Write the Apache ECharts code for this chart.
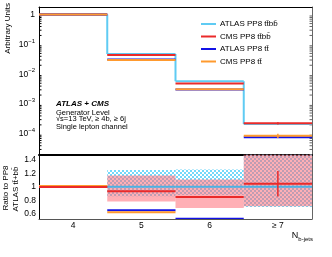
<!DOCTYPE html>
<html><head><meta charset="utf-8">
<script src="https://cdn.jsdelivr.net/npm/echarts@6/dist/echarts.min.js"></script>
<style>html,body{margin:0;padding:0;background:#fff}#c{width:332px;height:257px}</style>
</head><body><div id="c"></div>
<script>
// ---- data ----
const categories = ['4', '5', '6', '≥ 7'];
const seriesNames = ['ATLAS PP8 tt\u0304bb\u0304', 'CMS PP8 tt\u0304bb\u0304', 'ATLAS PP8 tt\u0304', 'CMS PP8 tt\u0304'];
// top panel (arbitrary units)
const atlasTtbb = [1.0, 0.048, 0.0058, 2.15e-4];
const cmsTtbb = [1.0, 0.0446, 0.0049, 2.25e-4];
const cmsTtbbErr = [0.004, 0.0005, 0.00008, 0.2e-4];
const atlasTt = [1.0, 0.0312, 0.00308, 7.7e-5];
const atlasTtErr = [0.003, 0.0003, 0.00004, 0.5e-5];
const cmsTt = [1.01, 0.0298, 0.00314, 8.7e-5];
const cmsTtErr = [0.003, 0.0003, 0.00004, 1.4e-5];
// ratio panel
const ratioAtlasTtbb = [1.0, 1.0, 1.0, 1.0];
const ratioCmsTtbb = [0.998, 0.935, 0.85, 1.045];
const ratioCmsTtbbErr = [0, 0.006, 0.015, 0.19];
const ratioAtlasTt = [1.0, 0.65, 0.523, 0.36];
const ratioCmsTt = [1.012, 0.62, 0.50, 0.40];
const bandAtlasLo = [1, 0.86, 0.88, 0.70];
const bandAtlasHi = [1, 1.25, 1.26, 1.60];
const bandCmsLo = [1, 0.78, 0.685, 0.71];
const bandCmsHi = [1, 1.17, 1.11, 1.60];
const ratioTicks = [0.6, 0.8, 1.0, 1.2, 1.4];

const FONT = '"Liberation Sans", Arial, Helvetica, sans-serif';
const C_CYAN = '#5fcbf3', C_RED = '#ea2a2a', C_BLUE = '#1212e6', C_ORANGE = '#ff9a2e';

const ratioMinorTicks = [];
for (let k = 11; k <= 29; k++) ratioMinorTicks.push(+(k * 0.05).toFixed(2));

// checker pattern for ATLAS band
const pc = document.createElement('canvas');
pc.width = 4; pc.height = 4;
const pctx = pc.getContext('2d');
pctx.fillStyle = '#72d8fa';
pctx.fillRect(0, 0, 2, 2); pctx.fillRect(2, 2, 2, 2);

function stepItem(params, api) {
  const i = api.value(0), v = api.value(1), prev = api.value(2);
  const c = api.coord([i, v]);
  const bw = api.size([1, 0])[0];
  const x0 = c[0] - bw / 2, x1 = c[0] + bw / 2;
  const st = { stroke: api.visual('color'), lineWidth: 2 };
  const kids = [{ type: 'line', shape: { x1: x0, y1: c[1], x2: x1, y2: c[1] }, style: st }];
  if (!isNaN(prev)) {
    const p = api.coord([i, prev]);
    kids.push({ type: 'line', shape: { x1: x0, y1: p[1], x2: x0, y2: c[1] }, style: st });
  }
  return { type: 'group', children: kids };
}
function segItem(params, api) {
  const i = api.value(0), v = api.value(1), e = api.value(2);
  const c = api.coord([i, v]);
  const bw = api.size([1, 0])[0];
  const st = { stroke: api.visual('color'), lineWidth: 2 };
  const kids = [{ type: 'line', shape: { x1: c[0] - bw / 2, y1: c[1], x2: c[0] + bw / 2, y2: c[1] }, style: st }];
  if (e > 0) {
    const a = api.coord([i, v + e]), b = api.coord([i, v - e]);
    kids.push({ type: 'line', shape: { x1: c[0], y1: a[1], x2: c[0], y2: b[1] }, style: { stroke: api.visual('color'), lineWidth: 1.5 } });
  }
  return { type: 'group', children: kids };
}
function bandItem(fill) {
  return function (params, api) {
    const i = api.value(0), lo = api.value(1), hi = api.value(2);
    const a = api.coord([i, hi]), b = api.coord([i, lo]);
    const bw = api.size([1, 0])[0];
    return { type: 'rect', shape: { x: a[0] - bw / 2, y: a[1], width: bw, height: b[1] - a[1] }, style: { fill: fill } };
  };
}
function minorLogTicks(params, api) {
  const cs = params.coordSys;
  const kids = [];
  for (let e = -5; e <= 0; e++) {
    for (let k = 2; k <= 9; k++) {
      const val = k * Math.pow(10, e);
      const y = api.coord([0, val])[1];
      if (y < cs.y || y > cs.y + cs.height) continue;
      kids.push({ type: 'line', shape: { x1: cs.x, y1: y, x2: cs.x + 2.5, y2: y }, style: { stroke: '#000', lineWidth: 1 } });
      kids.push({ type: 'line', shape: { x1: cs.x + cs.width - 2.5, y1: y, x2: cs.x + cs.width, y2: y }, style: { stroke: '#666', lineWidth: 1 } });
    }
  }
  return { type: 'group', children: kids };
}

function logLabel(v) {
  const e = Math.round(Math.log10(v));
  if (e === 0) return '{b|1}';
  return '{b|10}{s|' + String(e).replace('-', '\u2212') + '}';
}

const catAxisBase = {
  type: 'category', data: categories, boundaryGap: true,
  axisTick: { inside: true, alignWithLabel: true, length: 4, lineStyle: { color: '#000' } },
  axisLabel: { show: false }, splitLine: { show: false }
};
function ratioAxis(pos, color, major) {
  return {
    type: 'value', gridIndex: 1, min: 0.52, max: 1.48, position: pos, offset: 0,
    axisLine: { show: major, lineStyle: { color: color } },
    axisTick: { inside: true, length: major ? 5 : 2.5, customValues: major ? ratioTicks : ratioMinorTicks, lineStyle: { color: color } },
    axisLabel: (major && pos === 'left') ? { show: true, customValues: ratioTicks, margin: 3, fontFamily: FONT, fontSize: 8.5, color: '#000',
      formatter: v => String(+Number(v).toFixed(1)) } : { show: false },
    splitLine: { show: false }
  };
}

const option = {
  animation: false,
  grid: [
    { left: 39, right: 20, top: 7, height: 147.7 },
    { left: 39, right: 20, top: 154.7, height: 64.3 }
  ],
  xAxis: [
    Object.assign({}, catAxisBase, { gridIndex: 0, position: 'bottom', axisLine: { lineStyle: { color: '#000', width: 2 } } }),
    Object.assign({}, catAxisBase, { gridIndex: 0, position: 'top', axisLine: { lineStyle: { color: '#000', width: 1 } } }),
    Object.assign({}, catAxisBase, { gridIndex: 1, position: 'bottom', axisLine: { lineStyle: { color: '#555', width: 1 } },
      axisLabel: { show: true, margin: 2, fontFamily: FONT, fontSize: 8.5, color: '#000' } }),
    Object.assign({}, catAxisBase, { gridIndex: 1, position: 'top', axisLine: { show: false } })
  ],
  yAxis: [
    { type: 'log', gridIndex: 0, min: 2e-5, max: 1.8, logBase: 10, position: 'left',
      axisLine: { show: true, lineStyle: { color: '#000' } },
      axisTick: { inside: true, length: 5, lineStyle: { color: '#000' } },
      axisLabel: { margin: 4, showMinLabel: false, showMaxLabel: false, formatter: logLabel,
        rich: { b: { fontFamily: FONT, fontSize: 8.5, color: '#000', lineHeight: 9, verticalAlign: 'bottom' },
                s: { fontFamily: FONT, fontSize: 6, color: '#000', lineHeight: 6, padding: [0, 0, 5, 0], verticalAlign: 'bottom' } } },
      splitLine: { show: false } },
    { type: 'log', gridIndex: 0, min: 2e-5, max: 1.8, logBase: 10, position: 'right',
      axisLine: { show: true, lineStyle: { color: '#666' } },
      axisTick: { inside: true, length: 5, lineStyle: { color: '#666' } },
      axisLabel: { show: false }, splitLine: { show: false } },
    ratioAxis('left', '#000', true),
    ratioAxis('right', '#666', true),
    ratioAxis('left', '#000', false),
    ratioAxis('right', '#666', false)
  ],
  legend: {
    data: seriesNames, orient: 'vertical', left: 196, top: 14, icon: 'rect',
    itemWidth: 15, itemHeight: 2, itemGap: 2.5, selectedMode: false,
    textStyle: { fontFamily: FONT, fontSize: 8, color: '#000', lineHeight: 10, padding: [0, 0, 0, -1] }
  },
  series: [
    { type: 'custom', name: 'minor', xAxisIndex: 0, yAxisIndex: 0, silent: true, renderItem: minorLogTicks, data: [[0, 1]] },
    { type: 'custom', name: seriesNames[0], xAxisIndex: 0, yAxisIndex: 0, clip: true, itemStyle: { color: C_CYAN }, renderItem: stepItem,
      data: atlasTtbb.map((v, i) => [i, v, i > 0 ? atlasTtbb[i - 1] : NaN]) },
    { type: 'custom', name: seriesNames[1], xAxisIndex: 0, yAxisIndex: 0, clip: true, itemStyle: { color: C_RED }, renderItem: segItem,
      data: cmsTtbb.map((v, i) => [i, v, cmsTtbbErr[i]]) },
    { type: 'custom', name: seriesNames[2], xAxisIndex: 0, yAxisIndex: 0, clip: true, itemStyle: { color: C_BLUE }, renderItem: segItem,
      data: atlasTt.map((v, i) => [i, v, atlasTtErr[i]]) },
    { type: 'custom', name: seriesNames[3], xAxisIndex: 0, yAxisIndex: 0, clip: true, itemStyle: { color: C_ORANGE }, renderItem: segItem,
      data: cmsTt.map((v, i) => [i, v, cmsTtErr[i]]) },
    // ratio
    { type: 'custom', name: 'bandA', xAxisIndex: 2, yAxisIndex: 2, clip: true, renderItem: bandItem({ image: pc, repeat: 'repeat' }),
      data: bandAtlasLo.map((v, i) => [i, v, bandAtlasHi[i]]) },
    { type: 'custom', name: 'bandC', xAxisIndex: 2, yAxisIndex: 2, clip: true, renderItem: bandItem('rgba(255,110,120,0.55)'),
      data: bandCmsLo.map((v, i) => [i, v, bandCmsHi[i]]) },
    { type: 'custom', name: seriesNames[0], xAxisIndex: 2, yAxisIndex: 2, clip: true, itemStyle: { color: '#4cb2e4' }, renderItem: stepItem,
      data: ratioAtlasTtbb.map((v, i) => [i, v, i > 0 ? ratioAtlasTtbb[i - 1] : NaN]) },
    { type: 'custom', name: seriesNames[2], xAxisIndex: 2, yAxisIndex: 2, clip: true, itemStyle: { color: C_BLUE }, renderItem: segItem,
      data: ratioAtlasTt.map((v, i) => [i, v, 0]) },
    { type: 'custom', name: seriesNames[3], xAxisIndex: 2, yAxisIndex: 2, clip: true, itemStyle: { color: C_ORANGE }, renderItem: segItem,
      data: ratioCmsTt.map((v, i) => [i, v, 0]) },
    { type: 'custom', name: seriesNames[1], xAxisIndex: 2, yAxisIndex: 2, clip: true, itemStyle: { color: C_RED }, renderItem: segItem,
      data: ratioCmsTtbb.map((v, i) => [i, v, ratioCmsTtbbErr[i]]) }
  ],
  graphic: [
    { type: 'text', left: 56, top: 100, style: { text: 'ATLAS + CMS', font: 'italic bold 8px ' + FONT, fill: '#000' } },
    { type: 'text', left: 56, top: 108.5, style: { text: 'Generator Level', font: '7.5px ' + FONT, fill: '#000' } },
    { type: 'text', left: 56, top: 115.3, style: { text: '\u221As=13 TeV, \u2265 4b, \u2265 6j', font: '7.5px ' + FONT, fill: '#000' } },
    { type: 'text', left: 56, top: 122.5, style: { text: 'Single lepton channel', font: '7.5px ' + FONT, fill: '#000' } },
    { type: 'text', x: 7.5, y: 3, rotation: Math.PI / 2, style: { text: 'Arbitrary Units', font: '8px ' + FONT, fill: '#000', align: 'right', verticalAlign: 'middle' } },
    { type: 'text', x: 6, y: 188, rotation: Math.PI / 2, style: { text: 'Ratio to PP8', font: '8px ' + FONT, fill: '#000', align: 'center', verticalAlign: 'middle' } },
    { type: 'text', x: 15.5, y: 189, rotation: Math.PI / 2, style: { text: 'ATLAS tt\u0304+bb\u0304', font: '8px ' + FONT, fill: '#000', align: 'center', verticalAlign: 'middle' } },
    { type: 'text', x: 313, y: 237, style: { text: '{n|N}{s|b-jets}', align: 'right', verticalAlign: 'middle',
      rich: { n: { fontFamily: FONT, fontSize: 9, fill: '#000', verticalAlign: 'top', lineHeight: 12 },
              s: { fontFamily: FONT, fontSize: 6, fill: '#000', padding: [5, 0, 0, 0], lineHeight: 6, verticalAlign: 'top' } } } }
  ]
};
const chart = echarts.init(document.getElementById('c'), null, { renderer: 'canvas' });
chart.setOption(option);
</script>
</body></html>
